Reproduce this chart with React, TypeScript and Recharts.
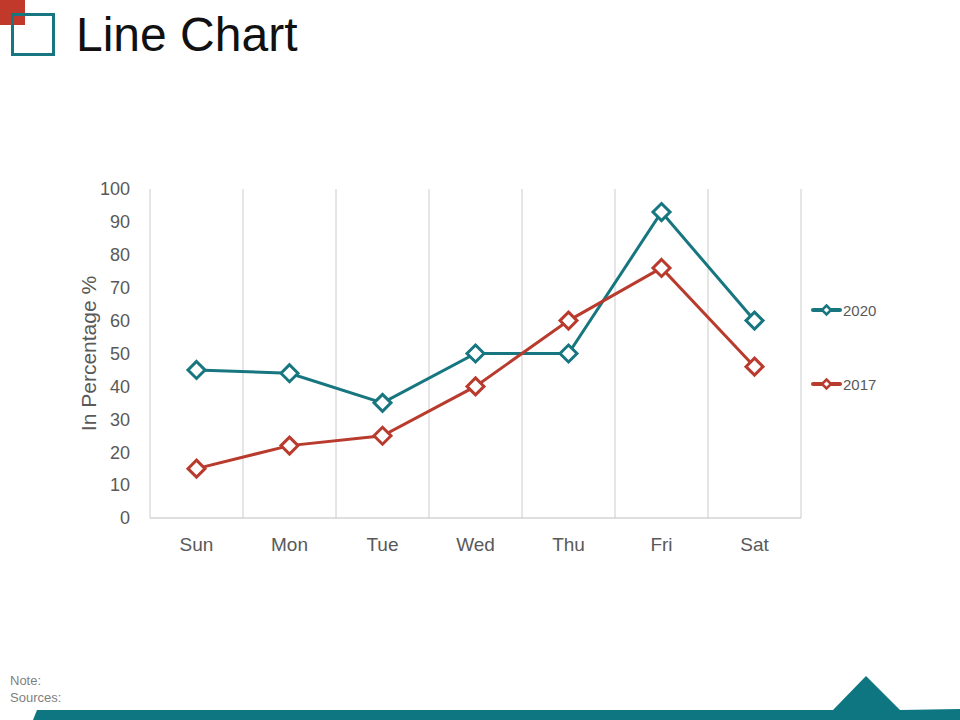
import React from 'react';
import { LineChart, Line, XAxis, YAxis, CartesianGrid } from 'recharts';

const days = ['Sun', 'Mon', 'Tue', 'Wed', 'Thu', 'Fri', 'Sat'];
const series2020 = [45, 44, 35, 50, 50, 93, 60];
const series2017 = [15, 22, 25, 40, 60, 76, 46];
const yTicks = [0, 10, 20, 30, 40, 50, 60, 70, 80, 90, 100];
const legendItems = ['2020', '2017'];

const TEAL = '#17767F';
const RED = '#B83B2E';
const colors = [TEAL, RED];

const data = days.map((d, i) => ({ day: d, y2020: series2020[i], y2017: series2017[i] }));

const Diamond = (color: string) => (props: any) => {
  const { cx, cy } = props;
  if (cx == null || cy == null) return null;
  const r = 8.5;
  return (
    <path
      key={`${cx}-${cy}`}
      d={`M${cx},${cy - r} L${cx + r},${cy} L${cx},${cy + r} L${cx - r},${cy} Z`}
      fill="#fff"
      stroke={color}
      strokeWidth={3}
    />
  );
};

const PLOT_W = 651;
const BAND = PLOT_W / days.length;

export default function App() {
  return (
    <div style={{ position: 'absolute', left: 0, top: 0, width: 960, height: 720, background: '#fff', overflow: 'hidden', fontFamily: 'Liberation Sans, Arial, sans-serif' }}>
      <svg width={960} height={720} style={{ position: 'absolute', left: 0, top: 0 }}>
        <rect x={0} y={0} width={25} height={25} fill="#C0392B" />
        <rect x={12.5} y={14.5} width={41} height={40} fill="none" stroke={TEAL} strokeWidth={3} />
        <text x={76} y={51} fontSize={48} fill="#111" fontFamily="Liberation Sans, Arial, sans-serif">Line Chart</text>
        <text x={10} y={685} fontSize={13} fill="#7f7f7f" fontFamily="Liberation Sans, Arial, sans-serif">Note:</text>
        <text x={10} y={702} fontSize={13} fill="#7f7f7f" fontFamily="Liberation Sans, Arial, sans-serif">Sources:</text>
        <polygon points="33,720 37,710 833,710 866,676 900,710 960,709 960,720" fill="#0E7680" />
      </svg>
      <div style={{ position: 'absolute', left: 0, top: 0 }}>
        <LineChart width={960} height={720} data={data} margin={{ top: 189, right: 159, bottom: 142, left: 90 }}>
          <CartesianGrid
            horizontal={false}
            stroke="#cccccc"
            verticalCoordinatesGenerator={({ offset }: any) =>
              days.map((_, i) => offset.left + (i * offset.width) / days.length).concat([offset.left + offset.width])
            }
          />
          <XAxis
            dataKey="day"
            axisLine={{ stroke: '#bfbfbf' }}
            tickLine={false}
            tick={{ fontSize: 19, fill: '#595959' }}
            tickMargin={14}
            height={60}
            padding={{ left: BAND / 2, right: BAND / 2 }}
          />
          <YAxis
            domain={[0, 100]}
            ticks={yTicks}
            axisLine={false}
            tickLine={false}
            tick={{ fontSize: 18, fill: '#595959' }}
            tickMargin={14}
            width={60}
            label={{ value: 'In Percentage %', angle: -90, position: 'insideLeft', offset: -1, style: { fontSize: 21, fill: '#595959', textAnchor: 'middle' } }}
          />
          <Line dataKey="y2020" name="2020" stroke={TEAL} strokeWidth={3} dot={Diamond(TEAL)} activeDot={false} isAnimationActive={false} />
          <Line dataKey="y2017" name="2017" stroke={RED} strokeWidth={3} dot={Diamond(RED)} activeDot={false} isAnimationActive={false} />
        </LineChart>
      </div>
      <div style={{ position: 'absolute', left: 810, top: 300 }}>
        {legendItems.map((label, i) => (
          <div key={label} style={{ position: 'absolute', left: 0, top: i * 74, display: 'flex', alignItems: 'center', height: 20, whiteSpace: 'nowrap' }}>
            <svg width={32} height={20}>
              <line x1={3} y1={10} x2={30} y2={10} stroke={colors[i]} strokeWidth={4} strokeLinecap="round" />
              <path d="M16.5,5.5 L21,10 L16.5,14.5 L12,10 Z" fill="#fff" stroke={colors[i]} strokeWidth={2.5} />
            </svg>
            <span style={{ fontSize: 15, color: '#595959', marginLeft: 1 }}>{label}</span>
          </div>
        ))}
      </div>
    </div>
  );
}
